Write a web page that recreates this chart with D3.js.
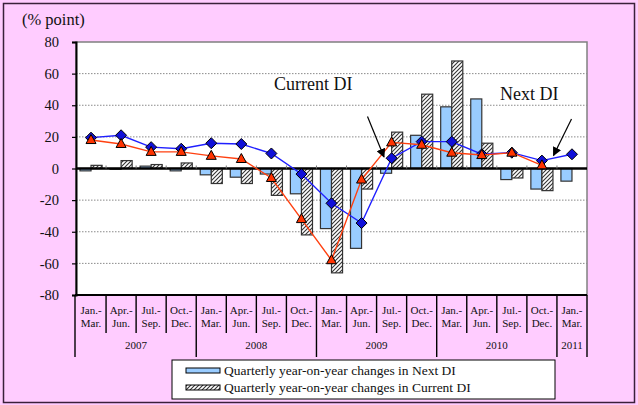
<!DOCTYPE html>
<html>
<head>
<meta charset="utf-8">
<script src="https://cdn.jsdelivr.net/npm/d3@7"></script>
<style>
  html, body { margin: 0; padding: 0; background: #ffccff; }
  svg { display: block; }
  text { font-family: "Liberation Serif", "Times New Roman", serif; fill: #111; }
</style>
</head>
<body>
<svg id="chart" width="638" height="405"></svg>
<script>
// Quarter labels (two lines each) and year groups
const quarterTop = ["Jan.-","Apr.-","Jul.-","Oct.-","Jan.-","Apr.-","Jul.-","Oct.-","Jan.-","Apr.-","Jul.-","Oct.-","Jan.-","Apr.-","Jul.-","Oct.-","Jan.-"];
const quarterBottom = ["Mar.","Jun.","Sep.","Dec.","Mar.","Jun.","Sep.","Dec.","Mar.","Jun.","Sep.","Dec.","Mar.","Jun.","Sep.","Dec.","Mar."];
const years = ["2007","2008","2009","2010","2011"];
const yearQuarters = [4, 4, 4, 4, 1];

// Quarterly year-on-year changes (bars)
const nextChange    = [-1.5, -0.5, 1.5, -1.5, -4, -5.5, -3.5, -16, -38, -50.5, -3, 21, 39, 44, -7, -13, -8];
const currentChange = [2, 5, 2.5, 3.5, -9.5, -9.5, -17, -42, -66, -13, 23, 47, 68, 16, -6, -14, null];

// DI levels (lines)
const nextDI    = [19.5, 21, 13.5, 12.5, 16, 15.5, 9.5, -3.5, -22, -34.5, 6.5, 17, 17, 9, 10, 5, 9];
const currentDI = [18, 15.5, 10.5, 10.5, 8, 6, -6, -32, -58, -7, 16.5, 15, 10, 8.5, 10, 2, null];

const yTicks = [-80, -60, -40, -20, 0, 20, 40, 60, 80];
const legendLabels = ["Quarterly year-on-year changes in Next DI", "Quarterly year-on-year changes in Current DI"];

const svg = d3.select("#chart");
const L = 76, R = 587, T = 42, B = 295;
const idx = d3.range(quarterTop.length);

const x = d3.scaleBand().domain(idx).range([L, R]).padding(0);
const xSub = d3.scaleBand().domain(["next", "current"]).range([0, x.bandwidth()]).paddingOuter(0.36).paddingInner(0);
const y = d3.scaleLinear().domain([-80, 80]).range([B, T]);

// hatch pattern for the Current DI bars
const defs = svg.append("defs");
const pat = defs.append("pattern").attr("id", "hatch").attr("patternUnits", "userSpaceOnUse")
  .attr("width", 4).attr("height", 4);
pat.append("rect").attr("width", 4).attr("height", 4).attr("fill", "#fff");
pat.append("path").attr("d", "M-1,1 l2,-2 M0,4 l4,-4 M3,5 l2,-2")
  .attr("stroke", "#333").attr("stroke-width", 1.1);
defs.append("marker").attr("id", "arrow").attr("viewBox", "0 0 10 10").attr("refX", 9).attr("refY", 5)
  .attr("markerWidth", 9).attr("markerHeight", 9).attr("markerUnits", "userSpaceOnUse").attr("orient", "auto")
  .append("path").attr("d", "M0,0 L10,5 L0,10 z").attr("fill", "#000");

// outer frame
svg.append("rect").attr("x", 3.5).attr("y", 3.5).attr("width", 631).attr("height", 399)
  .attr("fill", "#ffccff").attr("stroke", "#3a203a").attr("stroke-width", 1.5);

// plot area
svg.append("rect").attr("x", L).attr("y", T).attr("width", R - L).attr("height", B - T)
  .attr("fill", "#fff").attr("stroke", "#808080").attr("stroke-width", 1.5);

// gridlines
svg.append("g").selectAll("line").data(yTicks.filter(d => d !== 0 && Math.abs(d) !== 80)).join("line")
  .attr("x1", L).attr("x2", R).attr("y1", d => y(d)).attr("y2", d => y(d))
  .attr("stroke", "#8a8a8a").attr("stroke-width", 1).attr("stroke-dasharray", "1.5,1.5");

// y axis
const yAxis = svg.append("g").attr("transform", `translate(${L},0)`)
  .call(d3.axisLeft(y).tickValues(yTicks).tickSize(4).tickPadding(13).tickFormat(d => String(d)));
yAxis.select(".domain").attr("stroke", "#000").attr("stroke-width", 2);
yAxis.selectAll(".tick line").attr("stroke", "#000").attr("stroke-width", 1.2);
yAxis.selectAll(".tick text").attr("font-size", 14.5).attr("font-family", "Liberation Serif").attr("fill", "#111");

svg.append("text").attr("x", 22).attr("y", 25).attr("font-size", 16.5).text("(% point)");

// bars
const barG = svg.append("g");
barG.selectAll("rect.next").data(idx.filter(i => nextChange[i] != null)).join("rect").attr("class", "next")
  .attr("x", i => x(i) + xSub("next")).attr("width", xSub.bandwidth())
  .attr("y", i => y(Math.max(0, nextChange[i]))).attr("height", i => Math.abs(y(nextChange[i]) - y(0)))
  .attr("fill", "#99ccff").attr("stroke", "#333").attr("stroke-width", 1.2);
barG.selectAll("rect.cur").data(idx.filter(i => currentChange[i] != null)).join("rect").attr("class", "cur")
  .attr("x", i => x(i) + xSub("current")).attr("width", xSub.bandwidth())
  .attr("y", i => y(Math.max(0, currentChange[i]))).attr("height", i => Math.abs(y(currentChange[i]) - y(0)))
  .attr("fill", "url(#hatch)").attr("stroke", "#333").attr("stroke-width", 1.2);

// zero line with small category ticks
svg.append("line").attr("x1", L).attr("x2", R).attr("y1", y(0)).attr("y2", y(0))
  .attr("stroke", "#000").attr("stroke-width", 2.5);
svg.append("g").selectAll("line").data(d3.range(1, idx.length)).join("line")
  .attr("x1", i => x(i)).attr("x2", i => x(i)).attr("y1", y(0) - 3).attr("y2", y(0))
  .attr("stroke", "#777").attr("stroke-width", 1);

// bottom border of plot
svg.append("line").attr("x1", L - 1).attr("x2", R).attr("y1", B).attr("y2", B)
  .attr("stroke", "#000").attr("stroke-width", 2);

// DI lines
const cx = i => x(i) + x.bandwidth() / 2;
function drawSeries(vals, lineColor, drawMarker) {
  const pts = idx.filter(i => vals[i] != null);
  svg.append("path").datum(pts)
    .attr("d", d3.line().x(cx).y(i => y(vals[i])))
    .attr("fill", "none").attr("stroke", lineColor).attr("stroke-width", 1.4);
  const g = svg.append("g");
  pts.forEach(i => drawMarker(g, cx(i), y(vals[i])));
}
drawSeries(nextDI, "#1f1fff", (g, px, py) => {
  g.append("path").attr("d", `M${px},${py - 5.5} L${px + 5.5},${py} L${px},${py + 5.5} L${px - 5.5},${py} Z`)
    .attr("fill", "#1010d8").attr("stroke", "#000").attr("stroke-width", 1);
});
drawSeries(currentDI, "#ff4010", (g, px, py) => {
  g.append("path").attr("d", `M${px},${py - 5.5} L${px + 5},${py + 3.5} L${px - 5},${py + 3.5} Z`)
    .attr("fill", "#ff3300").attr("stroke", "#000").attr("stroke-width", 1);
});

// annotations
svg.append("text").attr("x", 274).attr("y", 90).attr("font-size", 18).text("Current DI");
svg.append("line").attr("x1", 367.5).attr("y1", 116.5).attr("x2", 384).attr("y2", 157)
  .attr("stroke", "#000").attr("stroke-width", 1.2).attr("marker-end", "url(#arrow)");
svg.append("text").attr("x", 500).attr("y", 100).attr("font-size", 18).text("Next DI");
svg.append("line").attr("x1", 571.5).attr("y1", 119).attr("x2", 553.5).attr("y2", 155.5)
  .attr("stroke", "#000").attr("stroke-width", 1.2).attr("marker-end", "url(#arrow)");

// category labels
const lab = svg.append("g").attr("font-size", 11).attr("text-anchor", "middle");
lab.selectAll("text.t").data(idx).join("text").attr("class", "t")
  .attr("x", cx).attr("y", 314).attr("font-size", 11).attr("text-anchor", "middle").text(i => quarterTop[i]);
lab.selectAll("text.b").data(idx).join("text").attr("class", "b")
  .attr("x", cx).attr("y", 327).attr("font-size", 11).attr("text-anchor", "middle").text(i => quarterBottom[i]);

const yearStart = [];
yearQuarters.reduce((acc, n) => { yearStart.push(acc); return acc + n; }, 0);
const boundaries = d3.range(0, idx.length + 1);
const isYearEdge = b => b === idx.length || yearStart.includes(b);
svg.append("g").selectAll("line").data(boundaries).join("line")
  .attr("x1", b => b === idx.length ? R : x(b) - (b === 0 ? 1 : 0))
  .attr("x2", b => b === idx.length ? R : x(b) - (b === 0 ? 1 : 0))
  .attr("y1", B).attr("y2", b => isYearEdge(b) ? 357 : 333)
  .attr("stroke", "#000").attr("stroke-width", 1.4);

svg.append("g").selectAll("text").data(years).join("text")
  .attr("x", (d, k) => (x(yearStart[k]) + (yearStart[k] + yearQuarters[k] === idx.length ? R : x(yearStart[k] + yearQuarters[k]))) / 2)
  .attr("y", 349).attr("font-size", 11).attr("text-anchor", "middle").text(d => d);

// legend
const lg = svg.append("g");
lg.append("rect").attr("x", 172).attr("y", 360).attr("width", 383).attr("height", 39)
  .attr("fill", "#fff").attr("stroke", "#000").attr("stroke-width", 1);
const swFill = ["#99ccff", "url(#hatch)"];
legendLabels.forEach((t, k) => {
  const yy = 368 + k * 17;
  lg.append("rect").attr("x", 186).attr("y", yy).attr("width", 34).attr("height", 5)
    .attr("fill", swFill[k]).attr("stroke", "#000").attr("stroke-width", 1);
  lg.append("text").attr("x", 224).attr("y", yy + 6.5).attr("font-size", 13.5).text(t);
});
</script>
</body>
</html>
